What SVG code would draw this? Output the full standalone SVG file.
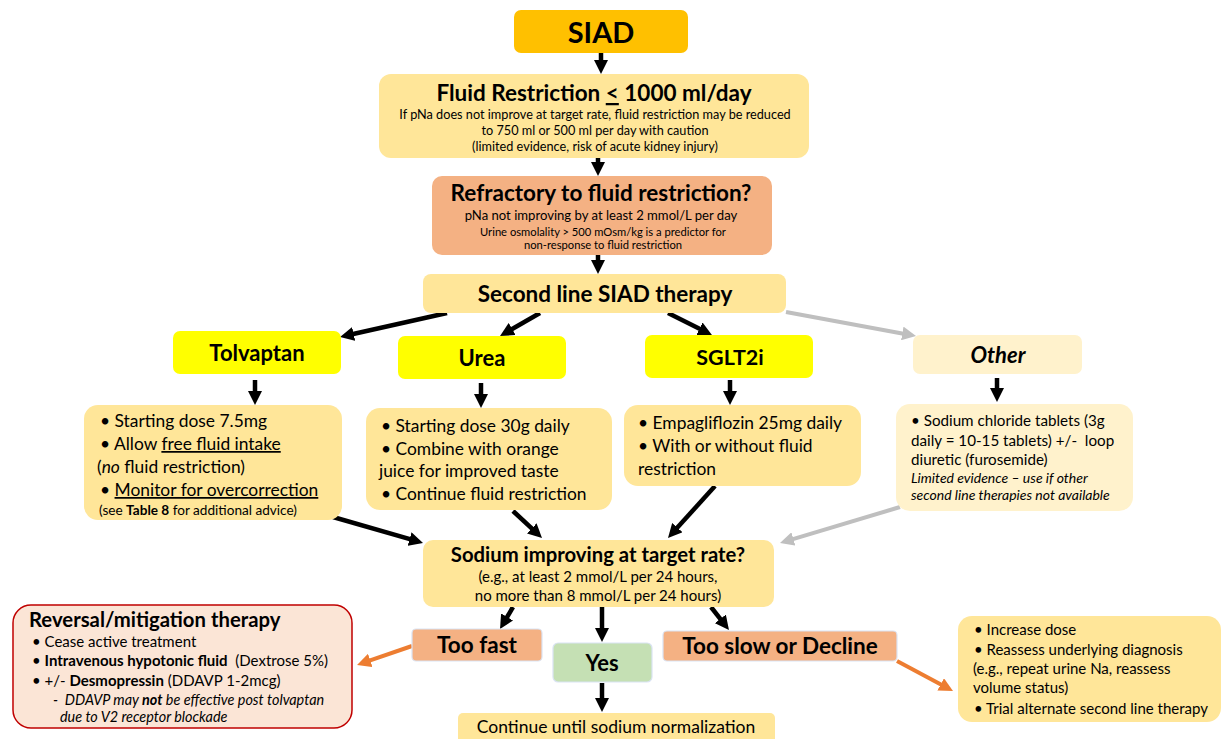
<svg xmlns="http://www.w3.org/2000/svg" width="1223" height="739" viewBox="0 0 1223 739">
<defs>
<style>
text{font-family:Lato,"Liberation Sans",sans-serif;fill:#000}
.t{font-weight:bold;text-anchor:middle}
.c{text-anchor:middle}
.b{font-weight:bold}
.i{font-style:italic}
.u{text-decoration:underline}
.a{stroke:#000;stroke-width:4.5;fill:none}
.g{stroke:#BFBFBF;stroke-width:4;fill:none}
.o{stroke:#ED7D31;stroke-width:4;fill:none}
.lb{stroke:#DAE3F3;stroke-width:1.2}
</style>
<marker id="ah" markerUnits="userSpaceOnUse" markerWidth="14" markerHeight="14" refX="4" refY="7" orient="auto"><path d="M0,0L14,7L0,14z" fill="#000"/></marker>
<marker id="gh" markerUnits="userSpaceOnUse" markerWidth="14" markerHeight="14" refX="4" refY="7" orient="auto"><path d="M0,0L14,7L0,14z" fill="#BFBFBF"/></marker>
<marker id="oh" markerUnits="userSpaceOnUse" markerWidth="14" markerHeight="14" refX="4" refY="7" orient="auto"><path d="M0,0L14,7L0,14z" fill="#ED7D31"/></marker>
</defs>
<rect width="1223" height="739" fill="#fff"/>

<g id="connectors">
<line class="a" marker-end="url(#ah)" x1="601" y1="53" x2="601" y2="64"/>
<line class="a" marker-end="url(#ah)" x1="598" y1="158" x2="598" y2="166"/>
<line class="a" marker-end="url(#ah)" x1="598" y1="255" x2="598" y2="264"/>
<line class="a" marker-end="url(#ah)" x1="447" y1="313" x2="349.8" y2="334.8"/>
<line class="a" marker-end="url(#ah)" x1="540" y1="313" x2="508.7" y2="331"/>
<line class="a" marker-end="url(#ah)" x1="668" y1="313" x2="703" y2="330.5"/>
<line class="g" marker-end="url(#gh)" x1="786" y1="312" x2="906.2" y2="334.2"/>
<line class="a" marker-end="url(#ah)" x1="255" y1="380" x2="255" y2="395"/>
<line class="a" marker-end="url(#ah)" x1="481" y1="383" x2="481" y2="398"/>
<line class="a" marker-end="url(#ah)" x1="730" y1="380" x2="730" y2="395"/>
<line class="a" marker-end="url(#ah)" x1="997" y1="378" x2="997" y2="392"/>
<line class="a" marker-end="url(#ah)" x1="333" y1="517" x2="413.4" y2="540.2"/>
<line class="a" marker-end="url(#ah)" x1="513" y1="511" x2="534.7" y2="531.2"/>
<line class="a" marker-end="url(#ah)" x1="715" y1="486" x2="674.7" y2="530.6"/>
<line class="g" marker-end="url(#gh)" x1="900" y1="507" x2="789.6" y2="540.1"/>
<line class="a" marker-end="url(#ah)" x1="513" y1="607" x2="505.1" y2="620.4"/>
<line class="a" marker-end="url(#ah)" x1="602" y1="607" x2="602" y2="632"/>
<line class="a" marker-end="url(#ah)" x1="711" y1="607" x2="722.8" y2="622.1"/>
<line class="a" marker-end="url(#ah)" x1="602" y1="683" x2="602" y2="702"/>
<line class="o" marker-end="url(#oh)" x1="412" y1="646" x2="366.5" y2="661.7"/>
<line class="o" marker-end="url(#oh)" x1="897" y1="661" x2="944.2" y2="686.3"/>
</g>

<g id="siad">
<rect x="514" y="10" width="174" height="43" rx="7" fill="#FFC000"/>
<text class="t" x="601" y="43" font-size="29">SIAD</text>
</g>

<g id="fluid">
<rect x="379" y="74" width="430" height="84" rx="12" fill="#FFE699"/>
<text class="t" x="594" y="101" font-size="22.5">Fluid Restriction <tspan class="u">&lt;</tspan> 1000 ml/day</text>
<text class="c" x="595" y="119" font-size="12.7">If pNa does not improve at target rate, fluid restriction may be reduced</text>
<text class="c" x="595" y="135" font-size="12.7">to 750 ml or 500 ml per day with caution</text>
<text class="c" x="595" y="151" font-size="12.7">(limited evidence, risk of acute kidney injury)</text>
</g>

<g id="refractory">
<rect x="432" y="176" width="340" height="79" rx="10" fill="#F4B183"/>
<text class="t" x="601" y="201" font-size="22.5">Refractory to fluid restriction?</text>
<text class="c" x="601" y="220" font-size="13.1">pNa not improving by at least 2 mmol/L per day</text>
<text class="c" x="603" y="236" font-size="11.2">Urine osmolality &gt; 500 mOsm/kg is a predictor for</text>
<text class="c" x="603" y="249" font-size="11.2">non-response to fluid restriction</text>
</g>

<g id="second">
<rect x="423" y="274" width="363" height="39" rx="8" fill="#FFE699"/>
<text class="t" x="605" y="302" font-size="22.5">Second line SIAD therapy</text>
</g>

<g id="tolvaptan">
<rect x="173" y="331" width="168" height="43" rx="7" fill="#FFFF00"/>
<text class="t" x="257" y="361" font-size="22">Tolvaptan</text>
</g>
<g id="urea">
<rect x="398" y="336" width="168" height="43" rx="7" fill="#FFFF00"/>
<text class="t" x="482" y="366" font-size="22">Urea</text>
</g>
<g id="sglt2i">
<rect x="645" y="335" width="168" height="43" rx="7" fill="#FFFF00"/>
<text class="t" x="730" y="365" font-size="21.5">SGLT2i</text>
</g>
<g id="other">
<rect x="913" y="335" width="169" height="39" rx="7" fill="#FFF2CC"/>
<text class="t i" x="998" y="363" font-size="22">Other</text>
</g>

<g id="tolvaptan-details">
<rect x="84" y="405" width="258" height="115" rx="14" fill="#FFE699"/>
<text x="100" y="427" font-size="17.4">• Starting dose 7.5mg</text>
<text x="100" y="450" font-size="17.4">• Allow <tspan class="u">free fluid intake</tspan></text>
<text x="97" y="473" font-size="17.4">(<tspan class="i">no</tspan> fluid restriction)</text>
<text x="100" y="496" font-size="17.4">• <tspan class="u">Monitor for overcorrection</tspan></text>
<text x="99" y="515" font-size="13.6">(see <tspan class="b">Table 8</tspan> for additional advice)</text>
</g>

<g id="urea-details">
<rect x="366" y="408" width="246" height="102" rx="14" fill="#FFE699"/>
<text x="381" y="432" font-size="17.4">• Starting dose 30g daily</text>
<text x="381" y="455" font-size="17.4">• Combine with orange</text>
<text x="379" y="477" font-size="17.4">juice for improved taste</text>
<text x="381" y="500" font-size="17.4">• Continue fluid restriction</text>
</g>

<g id="sglt2i-details">
<rect x="624" y="405" width="237" height="81" rx="14" fill="#FFE699"/>
<text x="638" y="429" font-size="17.4">• Empagliflozin 25mg daily</text>
<text x="638" y="452" font-size="17.4">• With or without fluid</text>
<text x="638" y="475" font-size="17.4">restriction</text>
</g>

<g id="other-details">
<rect x="896" y="404" width="237" height="107" rx="14" fill="#FFF2CC"/>
<text x="911" y="426" font-size="15.2">• Sodium chloride tablets (3g</text>
<text x="911" y="446" font-size="15.2">daily = 10-15 tablets) +/-&#160; loop</text>
<text x="911" y="465" font-size="15.2">diuretic (furosemide)</text>
<text class="i" x="911" y="483" font-size="14">Limited evidence – use if other</text>
<text class="i" x="911" y="500" font-size="14">second line therapies not available</text>
</g>

<g id="sodium">
<rect x="423" y="540" width="351" height="67" rx="10" fill="#FFE699"/>
<text class="t" x="598" y="562" font-size="20.3">Sodium improving at target rate?</text>
<text class="c" x="598" y="582" font-size="15">(e.g., at least 2 mmol/L per 24 hours,</text>
<text class="c" x="598" y="601" font-size="15">no more than 8 mmol/L per 24 hours)</text>
</g>

<g id="too-fast">
<rect class="lb" x="412" y="629" width="130" height="32" rx="4" fill="#F4B183"/>
<text class="t" x="477" y="653" font-size="22.5">Too fast</text>
</g>
<g id="yes">
<rect class="lb" x="553" y="643" width="99" height="39" rx="5" fill="#C5E0B4"/>
<text class="t" x="602" y="671" font-size="22">Yes</text>
</g>
<g id="too-slow">
<rect class="lb" x="663" y="631" width="234" height="30" rx="4" fill="#F4B183"/>
<text class="t" x="780" y="654" font-size="22.5">Too slow or Decline</text>
</g>
<g id="continue">
<rect x="458" y="713" width="317" height="32" rx="5" fill="#FFE699"/>
<text class="c" x="616" y="733" font-size="17.5">Continue until sodium normalization</text>
</g>

<g id="reversal">
<rect x="13" y="605" width="339" height="123" rx="18" fill="#FBE5D6" stroke="#C00000" stroke-width="1.5"/>
<text class="b" x="29" y="627" font-size="20.3">Reversal/mitigation therapy</text>
<text x="32" y="647" font-size="15">• Cease active treatment</text>
<text x="32" y="666" font-size="15">• <tspan class="b">Intravenous hypotonic fluid</tspan>&#160; (Dextrose 5%)</text>
<text x="32" y="686" font-size="15">• +/- <tspan class="b">Desmopressin</tspan> (DDAVP 1-2mcg)</text>
<text class="i" x="53" y="705" font-size="14.4">-&#160; DDAVP may <tspan class="b">not</tspan> be effective post tolvaptan</text>
<text class="i" x="60" y="722" font-size="14.4">due to V2 receptor blockade</text>
</g>

<g id="too-slow-actions">
<rect x="958" y="616" width="263" height="106" rx="14" fill="#FFE699"/>
<text x="974" y="635" font-size="15">• Increase dose</text>
<text x="974" y="655" font-size="15">• Reassess underlying diagnosis</text>
<text x="973" y="674" font-size="15">(e.g., repeat urine Na, reassess</text>
<text x="973" y="693" font-size="15">volume status)</text>
<text x="974" y="714" font-size="15">• Trial alternate second line therapy</text>
</g>
</svg>
